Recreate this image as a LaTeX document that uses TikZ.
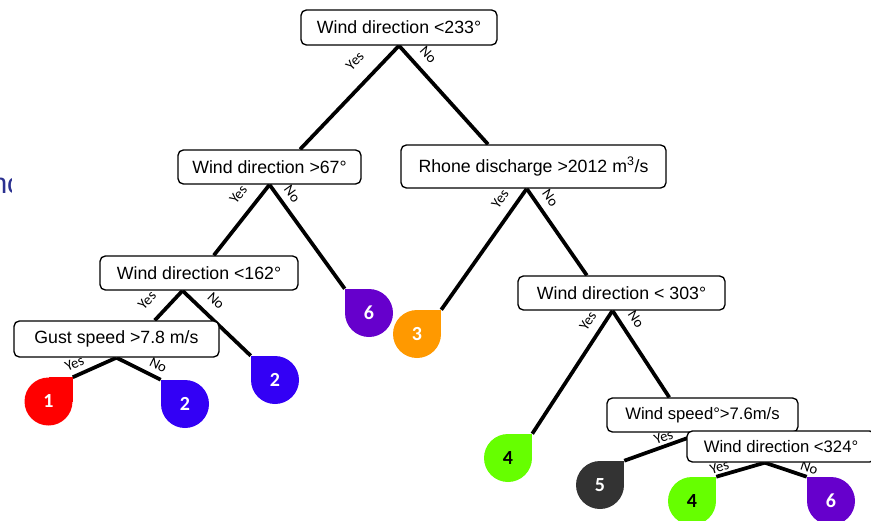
\documentclass[tikz,border=0pt]{standalone}
\usepackage{fontspec}
\setmainfont{Liberation Sans}
\newfontfamily\yesnofont{Carlito}
\usetikzlibrary{calc}
\definecolor{leafred}{HTML}{FF0000}
\definecolor{leafblue}{HTML}{3300F5}
\definecolor{leafpurple}{HTML}{6600CC}
\definecolor{leaforange}{HTML}{FF9900}
\definecolor{leafgreen}{HTML}{66FF00}
\definecolor{leafgrey}{HTML}{333333}
\definecolor{titleblue}{HTML}{2B3190}
\pgfdeclarelayer{drops}
\pgfsetlayers{drops,main}
\tikzset{
  test/.style={draw, fill=white, rounded corners=4pt, line width=1pt, inner sep=0pt,
    font=\fontsize{13.3}{16}\selectfont},
  smalltest/.style={test, font=\fontsize{12.5}{15}\selectfont},
  leaf/.style={circle, fill=#1, minimum size=36pt, inner sep=0pt, text=white,
    font=\yesnofont\fontsize{15}{18}\selectfont\bfseries},
  branch/.style={line width=2.8pt},
  ans/.style={sloped, above=#1, inner sep=0pt, font=\yesnofont\fontsize{11}{13}\selectfont},
  ans/.default=5pt,
}

\begin{document}
\begin{tikzpicture}[x=0.75pt,y=-0.75pt]
    \useasboundingbox (0,0) rectangle (871,521);
    % slide title, hidden behind the tree
    \begin{scope}
      \clip (0,0) rectangle (11,521);
      \node[anchor=base west, inner sep=0pt, text=titleblue, font=\fontsize{21.5}{24}\selectfont] (title) at (-9,193) {nc};
    \end{scope}
    % tests
    \node[test, minimum width=147pt, minimum height=26.25pt] (root) at (399,27.5) {Wind direction <233°};
    \node[test, minimum width=137.25pt, minimum height=25.5pt] (w67) at (269.5,167) {Wind direction >67°};
    \node[test, minimum width=198.75pt, minimum height=32.25pt] (rhone) at (533.5,166.5) {Rhone discharge >2012 m\textsuperscript{3}/s};
    \node[test, minimum width=148.5pt, minimum height=25.5pt] (w162) at (199,273) {Wind direction <162°};
    \node[test, minimum width=153.75pt, minimum height=27pt] (gust) at (116.5,339) {Gust speed >7.8 m/s};
    \node[test, minimum width=155.25pt, minimum height=25.5pt] (w303) at (621.5,293) {Wind direction < 303°};
    \node[smalltest, minimum width=143.25pt, minimum height=25.5pt] (wspeed) at (702.5,415) {Wind speed°>7.6m/s};
    \node[smalltest, minimum width=141pt, minimum height=23.25pt] (w324) at (781,446.5) {Wind direction <324°};
    % leaves
    \node[leaf=leafred] (l1) at (48.5,401.5) {1};
    \node[leaf=leafblue] (l2) at (185,404) {2};
    \node[leaf=leafblue] (l2b) at (275,380) {2};
    \node[leaf=leafpurple] (l6) at (369,313) {6};
    \node[leaf=leaforange] (l3) at (417,334) {3};
    \node[leaf=leafgreen, text=black] (l4) at (508,458) {4};
    \node[leaf=leafgrey] (l5) at (600,485) {5};
    \node[leaf=leafgreen, text=black] (l4b) at (692,501) {4};
    \node[leaf=leafpurple] (l6b) at (831,501) {6};
    \begin{pgfonlayer}{drops}
      \foreach \lf/\col/\side in {l1/leafred/east, l2/leafblue/west, l2b/leafblue/west,
          l6/leafpurple/west, l3/leaforange/east, l4/leafgreen/east, l5/leafgrey/east,
          l4b/leafgreen/east, l6b/leafpurple/west}
        \fill[\col] (\lf.center) rectangle (\lf.north -| \lf.\side);
      % branches
      \draw[branch] (root.south) -- node[ans=11pt, pos=.29] {Yes} (w67.30);
      \draw[branch] (root.south) -- node[ans=6.6pt, pos=.2] {No} (rhone.154);
      \draw[branch] (w67.south) -- node[ans=8.8pt, pos=.3] {Yes} (w162.50);
      \draw[branch] (w67.south) -- node[ans=4.8pt, pos=.16] {No} (l6.north -| l6.west);
      \draw[branch] (w162.-133) -- node[ans=9.5pt, pos=.77] {Yes} (gust.26);
      \draw[branch] (w162.-133) -- node[ans=7pt, pos=.33] {No} (l2b.north -| l2b.west);
      \draw[branch] (gust.south) -- node[ans=4pt, pos=.85] {Yes} (l1.north -| l1.east);
      \draw[branch] (gust.south) -- node[ans=4.3pt, pos=.82] {No} (l2.north -| l2.west);
      \draw[branch] (rhone.-107) -- node[ans=7pt, pos=.16] {Yes} (l3.north -| l3.east);
      \draw[branch] (rhone.-107) -- node[ans=5.6pt, pos=.2] {No} (w303.153);
      \draw[branch] (w303.-117) -- node[ans=6.3pt, pos=.15] {Yes} (l4.north -| l4.east);
      \draw[branch] (w303.-117) -- node[ans=6.5pt, pos=.19] {No} (wspeed.152);
      \draw[branch] (wspeed.south) -- node[ans=1.8pt, pos=.46] {Yes} (l5.north -| l5.east);
      \draw[branch] (w324.-135) -- node[ans=1pt, pos=.89] {Yes} (l4b.north -| l4b.east);
      \draw[branch] (w324.-135) -- node[ans=1.8pt, pos=.99] {No} (l6b.north -| l6b.west);
    \end{pgfonlayer}
\end{tikzpicture}
\end{document}
